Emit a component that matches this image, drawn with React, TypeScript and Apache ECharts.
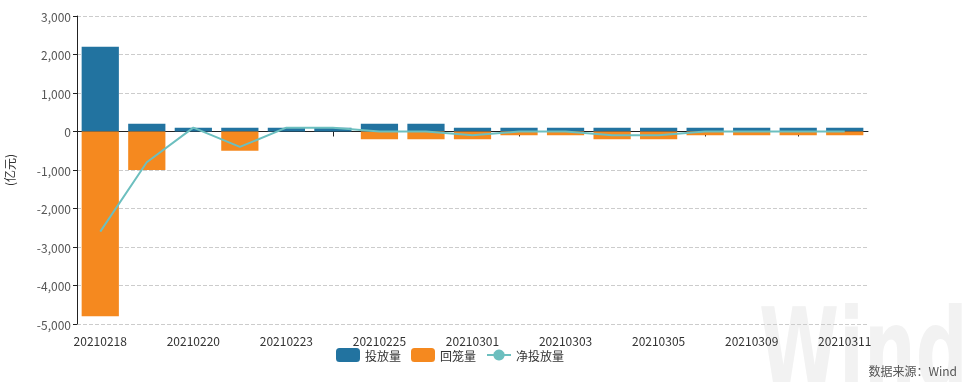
import React, { useEffect, useRef } from "react";
import * as echarts from "echarts";

const dates = [
  "20210218", "20210219", "20210220", "20210222", "20210223", "20210224",
  "20210225", "20210226", "20210301", "20210302", "20210303", "20210304",
  "20210305", "20210308", "20210309", "20210310", "20210311",
];
const injection = [2200, 200, 100, 100, 100, 100, 200, 200, 100, 100, 100, 100, 100, 100, 100, 100, 100];
const withdrawal = [-4800, -1000, 0, -500, 0, 0, -200, -200, -200, -100, -100, -200, -200, -100, -100, -100, -100];
const netInjection = [-2600, -800, 100, -400, 100, 100, 0, 0, -100, 0, 0, -100, -100, 0, 0, 0, 0];
const yTicks = { min: -5000, max: 3000, interval: 1000 };

const FONT = "'Noto Sans CJK SC', 'Noto Sans', sans-serif";

export default function App() {
  const ref = useRef<HTMLDivElement>(null);
  useEffect(() => {
    if (!ref.current) return;
    const chart = echarts.init(ref.current, undefined, { renderer: "svg" });
    chart.setOption({
      animation: false,
      textStyle: { fontFamily: FONT },
      grid: { left: 77, right: 96, top: 16, bottom: 58, containLabel: false, outerBoundsMode: "none" },
      graphic: [
        {
          type: "text",
          x: 759,
          y: 294,
          scaleX: 0.66,
          z: -10,
          silent: true,
          style: {
            text: "Wind",
            fontSize: 110,
            fontWeight: "bold",
            fontFamily: "'DejaVu Sans', sans-serif",
            fill: "#f2f2f2",
          },
        },
        {
          type: "text",
          right: 7,
          bottom: 6,
          style: {
            text: "数据来源：Wind",
            fontSize: 12,
            fontFamily: FONT,
            fill: "#555",
          },
        },
      ],
      legend: {
        left: 331,
        top: 343,
        itemWidth: 24,
        itemHeight: 14,
        itemGap: 10,
        textStyle: { fontSize: 12, color: "#333", fontFamily: FONT },
        data: [
          { name: "投放量", icon: "roundRect" },
          { name: "回笼量", icon: "roundRect" },
          { name: "净投放量" },
        ],
      },
      xAxis: [
        {
          type: "category",
          data: dates,
          position: "bottom",
          axisLine: { show: false, onZero: false },
          axisTick: { show: false },
          axisLabel: { interval: 1, color: "#333", fontSize: 12, margin: 10, fontFamily: FONT },
        },
        {
          type: "category",
          data: dates,
          position: "bottom",
          axisLine: { show: true, onZero: true, lineStyle: { color: "#222", width: 1 } },
          axisTick: {
            show: true,
            alignWithLabel: true,
            length: 5,
            interval: (i: number) => i % 2 === 1,
            lineStyle: { color: "#222" },
          },
          axisLabel: { show: false },
        },
      ],
      yAxis: {
        type: "value",
        min: yTicks.min,
        max: yTicks.max,
        interval: yTicks.interval,
        name: "(亿元)",
        nameLocation: "middle",
        nameRotate: 90,
        nameGap: 62,
        nameTextStyle: { fontSize: 12, color: "#333", fontFamily: FONT },
        axisLine: { show: true, lineStyle: { color: "#222" } },
        axisTick: { show: true, length: 4, lineStyle: { color: "#222" } },
        axisLabel: {
          color: "#555",
          fontSize: 12,
          margin: 6,
          fontFamily: FONT,
          formatter: (v: number) => v.toLocaleString("en-US"),
        },
        splitLine: { show: true, lineStyle: { color: "#ccc", type: "dashed" } },
      },
      series: [
        {
          name: "投放量",
          type: "bar",
          stack: "ops",
          barWidth: "80%",
          itemStyle: { color: "#2273a0" },
          data: injection,
        },
        {
          name: "回笼量",
          type: "bar",
          stack: "ops",
          barWidth: "80%",
          itemStyle: { color: "#f5891f" },
          data: withdrawal,
        },
        {
          name: "净投放量",
          type: "line",
          symbol: "circle",
          symbolSize: 8,
          showSymbol: false,
          lineStyle: { color: "#6cbfbf", width: 2 },
          itemStyle: { color: "#6cbfbf" },
          data: netInjection,
        },
      ],
    });
    return () => chart.dispose();
  }, []);
  return (
    <div
      ref={ref}
      style={{ position: "fixed", left: 0, top: 0, width: 964, height: 382 }}
    />
  );
}
